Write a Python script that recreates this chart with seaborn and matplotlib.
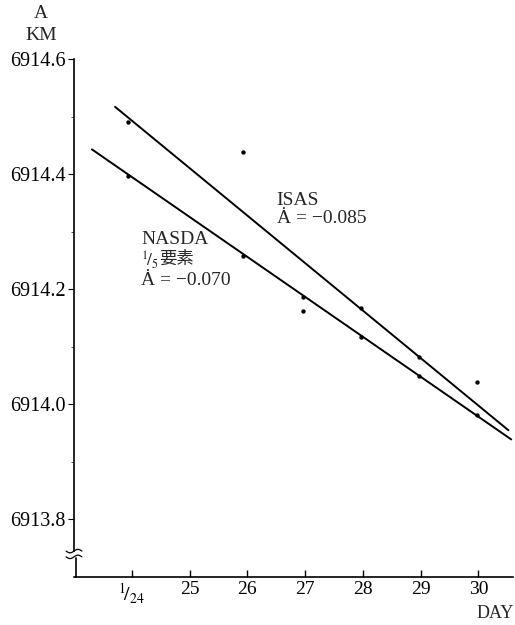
import numpy as np
import pandas as pd
import matplotlib
matplotlib.use("Agg")
import matplotlib.pyplot as plt
import seaborn as sns

# ---- data ----
days = [23.93, 25.92, 26.96, 27.96, 28.97, 29.97]
a_isas = [6914.490, 6914.438, 6914.162, 6914.167, 6914.082, 6914.038]
a_nasda = [6914.397, 6914.257, 6914.186, 6914.117, 6914.049, 6913.981]
isas_fit_days = [23.71, 30.52]
isas_fit_a = [6914.517, 6913.955]
nasda_fit_days = [23.31, 30.57]
nasda_fit_a = [6914.443, 6913.939]
x_ticks = [24, 25, 26, 27, 28, 29, 30]
x_ticklabels = [r"$^{1}\!/_{24}$", "25", "26", "27", "28", "29", "30"]
y_ticks = [6913.8, 6914.0, 6914.2, 6914.4, 6914.6]
y_ticklabels = ["6913.8", "6914.0", "6914.2", "6914.4", "6914.6"]

sns.set_theme(style="ticks")
plt.rcParams["font.family"] = ["Liberation Serif", "Noto Sans CJK JP", "DejaVu Serif"]
plt.rcParams["mathtext.fontset"] = "stix"

pts = pd.DataFrame({"day": days * 2, "a": a_isas + a_nasda,
                    "src": ["ISAS"] * 6 + ["NASDA"] * 6})
fits = pd.DataFrame({"day": isas_fit_days + nasda_fit_days,
                     "a": isas_fit_a + nasda_fit_a,
                     "src": ["ISAS"] * 2 + ["NASDA"] * 2})

fig = plt.figure(figsize=(5.15, 6.25), dpi=100)
ax = fig.add_axes([74 / 515, 48 / 625, 439 / 515, 518 / 625])

sns.lineplot(data=fits, x="day", y="a", units="src", estimator=None,
             color="black", lw=1.4, ax=ax, legend=False)
sns.scatterplot(data=pts, x="day", y="a", color="black", s=10,
                edgecolor="black", linewidth=0, ax=ax, legend=False, zorder=5)

ax.set_xlim(23.0, 30.6)
ax.set_ylim(6913.7, 6914.6)
ax.set_xlabel("")
ax.set_ylabel("")

ax.set_xticks(x_ticks)
ax.set_xticklabels(x_ticklabels, fontsize=14)
ax.set_yticks(y_ticks)
ax.set_yticklabels(y_ticklabels, fontsize=14.5)
ax.set_yticks([6913.9, 6914.1, 6914.3, 6914.5], minor=True)
ax.tick_params(axis="x", direction="in", length=5, width=1, pad=3, colors="black")
ax.tick_params(axis="y", direction="out", length=4, width=0.8, pad=2, colors="black")
ax.tick_params(axis="y", which="minor", direction="out", length=2, width=0.6)

for s in ["top", "right"]:
    ax.spines[s].set_visible(False)
ax.spines["left"].set_bounds(6913.745, 6914.6)
ax.spines["bottom"].set_linewidth(1.2)
ax.spines["left"].set_linewidth(1.2)
ax.spines["left"].set_color("black")
ax.spines["bottom"].set_color("black")

# axis break on the left spine (lower part + wavy marks)
tr = ax.get_yaxis_transform()
ax.plot([0.004, 0.004], [6913.7, 6913.733], transform=tr, color="black",
        lw=1.2, clip_on=False)
t = np.linspace(-1, 1, 30)
for yc in (6913.745, 6913.735):
    ax.plot(t * 0.018, yc + 0.003 * np.sin(t * np.pi), transform=tr,
            color="black", lw=0.9, clip_on=False)

# annotations
ax.text(26.51, 6914.355, "ISAS", fontsize=14, va="center", ha="left")
ax.text(26.51, 6914.323, "Ȧ = −0.085", fontsize=14, va="center", ha="left")
ax.text(24.16, 6914.287, "NASDA", fontsize=14, va="center", ha="left")
ax.text(24.16, 6914.251, r"$^{1}\!/_{5}$", fontsize=12.5, va="center", ha="left")
ax.text(24.48, 6914.253, "要素", fontsize=12.5, va="center", ha="left",
        family=["Noto Sans CJK JP"])
ax.text(24.16, 6914.216, "Ȧ = −0.070", fontsize=14, va="center", ha="left")

fig.text(41 / 515, 1 - 14 / 625, "A", fontsize=14, ha="center", va="center")
fig.text(41 / 515, 1 - 35 / 625, "KM", fontsize=14, ha="center", va="center")
fig.text(495 / 515, 1 - 613 / 625, "DAY", fontsize=13, ha="center", va="center")

fig.savefig("out.png", dpi=100)
